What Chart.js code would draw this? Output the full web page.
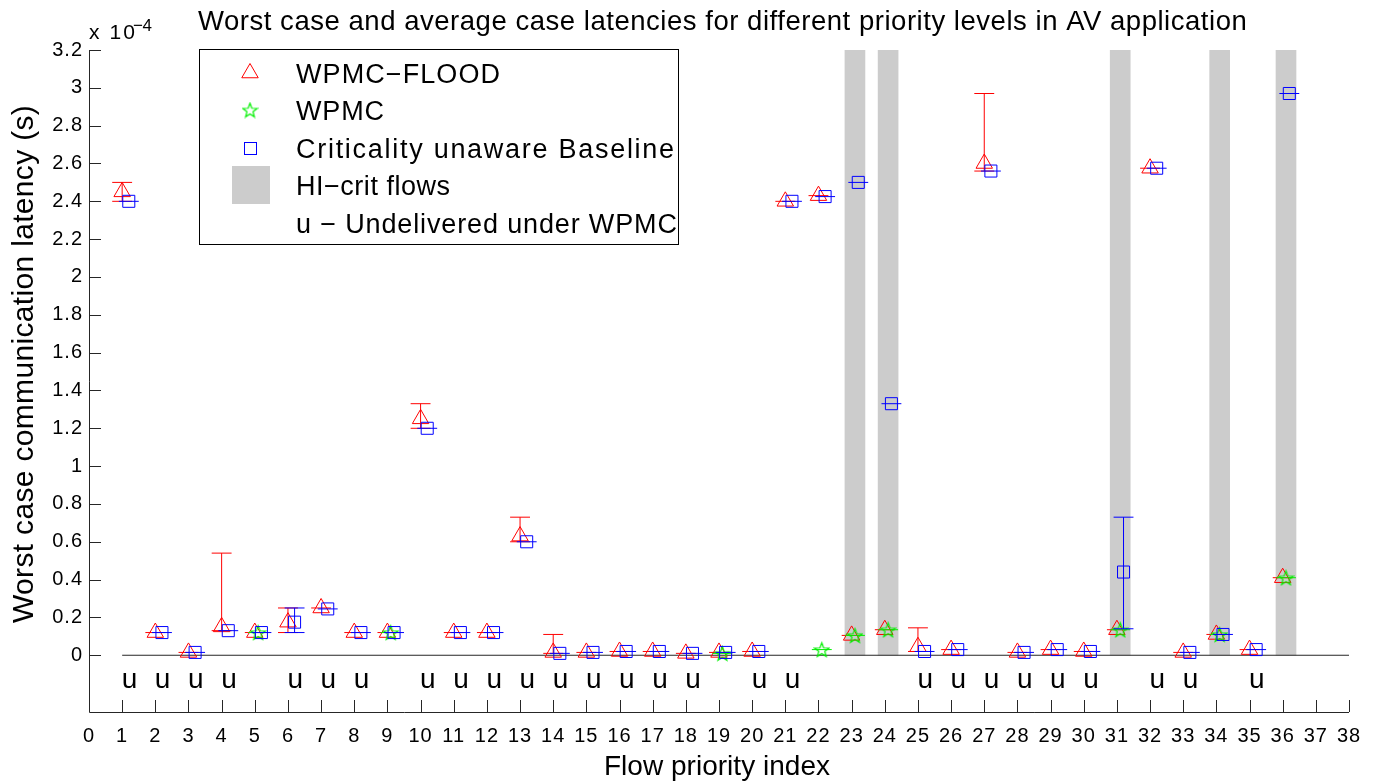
<!DOCTYPE html>
<html>
<head>
<meta charset="utf-8">
<script src="https://cdn.jsdelivr.net/npm/chart.js@4.4.1/dist/chart.umd.min.js"></script>
<style>
    html, body { margin: 0; padding: 0; background: #fff; }
    #wrap { width: 1379px; height: 783px; }
</style>
</head>
<body>
<div id="wrap"><canvas id="latencyChart" width="1379" height="783"></canvas></div>
<script>
// Flow priority index
const flows = [1, 2, 3, 4, 5, 6, 7, 8, 9, 10, 11, 12, 13, 14, 15, 16, 17, 18,
               19, 20, 21, 22, 23, 24, 25, 26, 27, 28, 29, 30, 31, 32, 33, 34, 35, 36];

// WPMC-FLOOD (x 1e-4 s)
const floodAvg = [2.45, 0.12, 0.015, 0.15, 0.12, 0.175, 0.25, 0.12, 0.12, 1.25, 0.12, 0.12, 0.63, 0.015, 0.015, 0.02, 0.02, 0.01,
                  0.015, 0.02, 2.40, 2.43, 0.105, 0.135, 0.045, 0.03, 2.60, 0.015, 0.03, 0.02, 0.135, 2.575, 0.015, 0.11, 0.03, 0.41];
const floodMin = [2.40, 0.12, 0.015, 0.13, 0.12, 0.12, 0.25, 0.12, 0.12, 1.20, 0.12, 0.12, 0.60, 0.01, 0.015, 0.02, 0.02, 0.01,
                  0.015, 0.02, 2.40, 2.43, 0.105, 0.135, 0.02, 0.03, 2.56, 0.015, 0.03, 0.02, 0.135, 2.575, 0.015, 0.11, 0.03, 0.41];
const floodMax = [2.50, 0.12, 0.015, 0.54, 0.12, 0.25, 0.25, 0.12, 0.12, 1.33, 0.12, 0.12, 0.73, 0.11, 0.015, 0.02, 0.02, 0.01,
                  0.015, 0.02, 2.40, 2.43, 0.105, 0.135, 0.145, 0.03, 2.97, 0.015, 0.03, 0.02, 0.135, 2.575, 0.015, 0.11, 0.03, 0.41];

// WPMC (only delivered flows)
const wpmcAvg = [null, null, null, null, 0.12, null, null, null, 0.12, null, null, null, null, null, null, null, null, null,
                 0.01, null, null, 0.03, 0.105, 0.135, null, null, null, null, null, null, 0.135, null, null, 0.11, null, 0.41];

// Criticality unaware Baseline
const baseAvg = [2.40, 0.12, 0.015, 0.13, 0.12, 0.175, 0.245, 0.12, 0.12, 1.20, 0.12, 0.12, 0.60, 0.01, 0.015, 0.02, 0.02, 0.01,
                 0.015, 0.02, 2.40, 2.425, 2.50, 1.33, 0.02, 0.03, 2.56, 0.015, 0.03, 0.02, 0.44, 2.575, 0.015, 0.11, 0.03, 2.97];
const baseMin = [2.40, 0.12, 0.015, 0.13, 0.12, 0.12, 0.245, 0.12, 0.12, 1.20, 0.12, 0.12, 0.60, 0.01, 0.015, 0.02, 0.02, 0.01,
                 0.015, 0.02, 2.40, 2.425, 2.50, 1.33, 0.02, 0.03, 2.56, 0.015, 0.03, 0.02, 0.14, 2.575, 0.015, 0.11, 0.03, 2.97];
const baseMax = [2.40, 0.12, 0.015, 0.13, 0.12, 0.25, 0.245, 0.12, 0.12, 1.20, 0.12, 0.12, 0.60, 0.01, 0.015, 0.02, 0.02, 0.01,
                 0.015, 0.02, 2.40, 2.425, 2.50, 1.33, 0.02, 0.03, 2.56, 0.015, 0.03, 0.02, 0.73, 2.575, 0.015, 0.11, 0.03, 2.97];

const hiCritFlows = [23, 24, 31, 34, 36];
const undelivered = [1, 2, 3, 4, 6, 7, 8, 10, 11, 12, 13, 14, 15, 16, 17, 18, 20, 21, 25, 26, 27, 28, 29, 30, 32, 33, 35];

const xTickValues = [0, 1, 2, 3, 4, 5, 6, 7, 8, 9, 10, 11, 12, 13, 14, 15, 16, 17, 18, 19,
                     20, 21, 22, 23, 24, 25, 26, 27, 28, 29, 30, 31, 32, 33, 34, 35, 36, 37, 38];
const yTickValues = [0, 0.2, 0.4, 0.6, 0.8, 1, 1.2, 1.4, 1.6, 1.8, 2, 2.2, 2.4, 2.6, 2.8, 3, 3.2];
const yMin = -0.3, yMax = 3.2;

const FONT = '"Liberation Sans", Arial, Helvetica, sans-serif';
const RED = '#ff0000', GREEN = '#00f000', BLUE = '#0000ff', GRAY = '#cccccc';
const CAP = 0.3;

// green pentagram marker (MATLAB 'p')
function makeStar(size, color) {
    const c = document.createElement('canvas');
    c.width = size; c.height = size;
    const g = c.getContext('2d');
    const cx = size / 2, cy = size / 2 + 0.8, R = size / 2 - 1, r = R * 0.42;
    g.beginPath();
    for (let i = 0; i < 10; i++) {
        const rad = (i % 2 === 0) ? R : r;
        const a = -Math.PI / 2 + i * Math.PI / 5;
        const px = cx + rad * Math.cos(a), py = cy + rad * Math.sin(a);
        if (i === 0) g.moveTo(px, py); else g.lineTo(px, py);
    }
    g.closePath();
    g.strokeStyle = color;
    g.lineWidth = 1.2;
    g.stroke();
    return c;
}
const starImg = makeStar(17, GREEN);

function points(avg, shift) {
    const out = [];
    flows.forEach((f, i) => {
        if (avg[i] !== null) out.push({ x: f + shift, y: avg[i] });
    });
    return out;
}

// errorbar: lower cap, vertical line, upper cap, separated by gaps
function errorbars(avg, lo, hi, shift) {
    const out = [];
    flows.forEach((f, i) => {
        if (avg[i] === null) return;
        const x = f + shift;
        out.push({ x: x - CAP, y: lo[i] }, { x: x + CAP, y: lo[i] }, { x: x, y: null });
        if (hi[i] > lo[i]) {
            out.push({ x: x, y: lo[i] }, { x: x, y: hi[i] }, { x: x, y: null });
            out.push({ x: x - CAP, y: hi[i] }, { x: x + CAP, y: hi[i] }, { x: x, y: null });
        }
    });
    return out;
}

// draw text stretched with letter spacing to the width it has in the figure
function fitText(ctx, text, x, y, size, width) {
    ctx.font = size + 'px ' + FONT;
    ctx.letterSpacing = '0px';
    ctx.textAlign = 'left';
    const w = ctx.measureText(text).width;
    const ls = (width - w) / Math.max(1, text.length - 1);
    ctx.letterSpacing = ls.toFixed(2) + 'px';
    ctx.fillText(text, x, y);
    ctx.letterSpacing = '0px';
}

const matlabAxes = {
    id: 'matlabAxes',
    beforeDraw(chart) {
        chart.ctx.letterSpacing = '1px';
    },
    afterDraw(chart) {
        const { ctx, chartArea: a, scales: { x, y } } = chart;
        ctx.save();
        ctx.letterSpacing = '0px';

        // axis lines
        ctx.strokeStyle = '#262626';
        ctx.lineWidth = 1;
        ctx.beginPath();
        ctx.moveTo(a.left + 0.5, a.top);
        ctx.lineTo(a.left + 0.5, a.bottom + 0.5);
        ctx.lineTo(a.right, a.bottom + 0.5);
        ctx.stroke();

        // inward ticks
        ctx.beginPath();
        yTickValues.forEach(v => {
            const py = Math.round(y.getPixelForValue(v)) + 0.5;
            ctx.moveTo(a.left, py);
            ctx.lineTo(a.left + 12, py);
        });
        xTickValues.forEach(v => {
            const px = Math.round(x.getPixelForValue(v)) + 0.5;
            ctx.moveTo(px, a.bottom);
            ctx.lineTo(px, a.bottom - 12);
        });
        ctx.stroke();

        // undelivered markers
        ctx.fillStyle = '#000';
        ctx.font = '28px ' + FONT;
        ctx.textAlign = 'center';
        ctx.textBaseline = 'middle';
        undelivered.forEach(f => {
            ctx.fillText('u', x.getPixelForValue(f + 0.22), y.getPixelForValue(-0.13));
        });

        ctx.textBaseline = 'alphabetic';

        // title
        fitText(ctx, 'Worst case and average case latencies for different priority levels in AV application',
                198, 29.5, 27.5, 1049);

        // axis labels
        fitText(ctx, 'Flow priority index', 604, 775, 28, 226);
        ctx.save();
        ctx.translate(33, 623);
        ctx.rotate(-Math.PI / 2);
        fitText(ctx, 'Worst case communication latency (s)', 0, 0, 30, 518);
        ctx.restore();

        // exponent
        fitText(ctx, 'x 10', 89, 39, 21, 46);
        fitText(ctx, '\u22124', 133, 31, 17, 19);

        // legend
        const lx = 199.5, ly = 49.5, lw = 479, lh = 195;
        ctx.fillStyle = '#fff';
        ctx.fillRect(lx, ly, lw, lh);
        ctx.strokeStyle = '#000';
        ctx.strokeRect(lx, ly, lw, lh);
        const rows = [73, 110, 148, 185, 223];
        const labels = ['WPMC\u2212FLOOD', 'WPMC', 'Criticality unaware Baseline', 'HI\u2212crit flows',
                        'u \u2212 Undelivered under WPMC'];
        const widths = [204, 88, 378, 154, 381];
        ctx.strokeStyle = RED;
        Chart.helpers.drawPoint(ctx, { pointStyle: 'triangle', radius: 9.5, borderWidth: 1 }, 250, rows[0]);
        ctx.drawImage(starImg, 250 - starImg.width / 2, rows[1] - starImg.height / 2);
        ctx.strokeStyle = BLUE;
        ctx.strokeRect(244.5, rows[2] - 5.5, 12, 12);
        ctx.fillStyle = GRAY;
        ctx.fillRect(232, rows[3] - 19, 38, 38);
        ctx.fillStyle = '#000';
        labels.forEach((t, i) => fitText(ctx, t, 296, rows[i] + 9.5, 27, widths[i]));

        ctx.restore();
    }
};

const ctx = document.getElementById('latencyChart');
new Chart(ctx, {
    type: 'scatter',
    data: {
        datasets: [
            {
                type: 'bar',
                label: 'HI-crit flows',
                data: hiCritFlows.map(f => ({ x: f + 0.1, y: yMax })),
                backgroundColor: GRAY,
                borderWidth: 0,
                barThickness: 20,
                order: 9
            },
            {
                label: 'zero',
                data: [{ x: 1, y: 0 }, { x: 38, y: 0 }],
                showLine: true,
                borderColor: '#262626',
                borderWidth: 1.2,
                pointRadius: 0,
                order: 8
            },
            {
                label: 'WPMC-FLOOD range',
                data: errorbars(floodAvg, floodMin, floodMax, 0),
                showLine: true,
                spanGaps: false,
                borderColor: RED,
                borderWidth: 1,
                pointRadius: 0,
                order: 7
            },
            {
                label: 'WPMC-FLOOD',
                data: points(floodAvg, 0),
                pointStyle: 'triangle',
                pointRadius: 9.5,
                borderColor: RED,
                backgroundColor: 'rgba(0,0,0,0)',
                borderWidth: 1,
                order: 6
            },
            {
                label: 'WPMC range',
                data: errorbars(wpmcAvg, wpmcAvg, wpmcAvg, 0.1),
                showLine: true,
                spanGaps: false,
                borderColor: GREEN,
                borderWidth: 1,
                pointRadius: 0,
                order: 5
            },
            {
                label: 'WPMC',
                data: points(wpmcAvg, 0.1),
                pointStyle: starImg,
                pointRadius: 8,
                order: 4
            },
            {
                label: 'Baseline range',
                data: errorbars(baseAvg, baseMin, baseMax, 0.2),
                showLine: true,
                spanGaps: false,
                borderColor: BLUE,
                borderWidth: 1,
                pointRadius: 0,
                order: 3
            },
            {
                label: 'Criticality unaware Baseline',
                data: points(baseAvg, 0.2),
                pointStyle: 'rect',
                pointRadius: 8.5,
                borderColor: BLUE,
                backgroundColor: 'rgba(0,0,0,0)',
                borderWidth: 1,
                order: 2
            }
        ]
    },
    options: {
        responsive: false,
        animation: false,
        devicePixelRatio: 1,
        layout: { padding: { top: 50, right: 30, left: 0, bottom: 0 } },
        plugins: {
            legend: { display: false },
            title: { display: false },
            tooltip: { enabled: false }
        },
        scales: {
            x: {
                type: 'linear',
                min: 0,
                max: 38,
                offset: false,
                grid: { display: false, drawTicks: false },
                border: { display: false },
                afterBuildTicks: (scale) => { scale.ticks = xTickValues.map(v => ({ value: v })); },
                afterFit: (scale) => { scale.height = 71; },
                ticks: {
                    autoSkip: false,
                    maxRotation: 0,
                    padding: 12,
                    color: '#000',
                    font: { family: FONT, size: 20 },
                    callback: (v) => String(v)
                }
            },
            y: {
                type: 'linear',
                min: yMin,
                max: yMax,
                grid: { display: false, drawTicks: false },
                border: { display: false },
                afterBuildTicks: (scale) => { scale.ticks = yTickValues.map(v => ({ value: v })); },
                afterFit: (scale) => { scale.width = 89; },
                ticks: {
                    padding: 6,
                    color: '#000',
                    font: { family: FONT, size: 20 },
                    callback: (v) => String(Number(v.toFixed(1)))
                }
            }
        }
    },
    plugins: [matlabAxes]
});
</script>
</body>
</html>
